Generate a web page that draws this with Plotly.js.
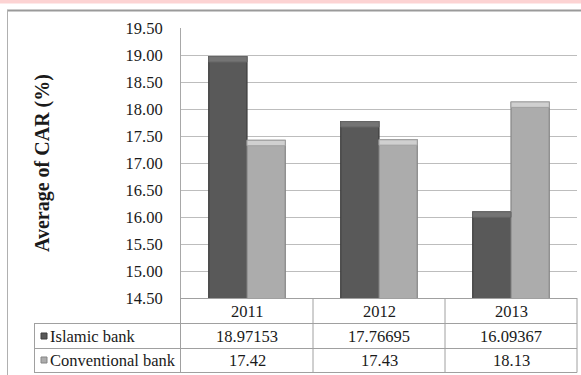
<!DOCTYPE html>
<html><head><meta charset="utf-8">
<script src="https://cdn.plot.ly/plotly-3.0.1.min.js"></script>
<style>html,body{margin:0;padding:0;background:#fff}#chart{width:581px;height:375px}</style>
</head><body><div id="chart"></div>
<script>
const years = ['2011', '2012', '2013'];
const islamic = [18.97153, 17.76695, 16.09367];
const conventional = [17.42, 17.43, 18.13];
const islamicLabels = ['18.97153', '17.76695', '16.09367'];
const conventionalLabels = ['17.42', '17.43', '18.13'];
const seriesNames = ['Islamic bank', 'Conventional bank'];
const yTicks = [14.5, 15, 15.5, 16, 16.5, 17, 17.5, 18, 18.5, 19, 19.5];
const yTitle = 'Average of CAR (%)';

const W = 581, H = 375, L = 181, R = 577, T = 28, B = 298;
const px = x => (x - L) / (R - L);
const py = y => (B - y) / (B - T);
const FONT = '"Times New Roman", "Liberation Serif", Tinos, serif';
const CAP = 0.1;

const darkFill = '#595959', darkLine = '#3e3e3e', darkCap = '#747474';
const lightFill = '#acacac', lightLine = '#858585', lightCap = '#d0d0d0';

const traces = [
  {type: 'bar', x: years, y: islamic, name: seriesNames[0], offsetgroup: 'a',
   marker: {color: darkFill, line: {color: darkLine, width: 1.2}}},
  {type: 'bar', x: years, y: conventional, name: seriesNames[1], offsetgroup: 'b',
   marker: {color: lightFill, line: {color: lightLine, width: 1.2}}},
  {type: 'bar', x: years, y: islamic.map(() => CAP), base: islamic.map(v => v - CAP), offsetgroup: 'a',
   marker: {color: darkCap, line: {color: '#666666', width: 1}}, hoverinfo: 'skip'},
  {type: 'bar', x: years, y: conventional.map(() => CAP), base: conventional.map(v => v - CAP), offsetgroup: 'b',
   marker: {color: lightCap, line: {color: '#a0a0a0', width: 1}}, hoverinfo: 'skip'}
];

const lineC = '#a0a0a0';
const shapes = [];
function hline(x0, x1, y, color, w) {
  shapes.push({type: 'line', xref: 'paper', yref: 'paper', x0: px(x0), x1: px(x1), y0: py(y), y1: py(y),
    line: {color: color || lineC, width: w || 1}});
}
function vline(x, y0, y1, color, w) {
  shapes.push({type: 'line', xref: 'paper', yref: 'paper', x0: px(x), x1: px(x), y0: py(y0), y1: py(y1),
    line: {color: color || lineC, width: w || 1}});
}
// pink strip at top
shapes.push({type: 'rect', xref: 'paper', yref: 'paper', x0: px(0), x1: px(W), y0: py(0), y1: py(3.5),
  fillcolor: '#fcd3d3', line: {width: 0}, layer: 'below'});
// outer frame
hline(7, 600, 10.5, '#9a9a9a', 2);
vline(7.5, 10, 400, '#b0b0b0', 1);
// table
hline(180, 577, 298.5);
hline(34, 577, 323.5);
hline(34, 577, 348.5);
hline(34, 577, 372.5);
vline(34.5, 323.5, 372.5);
vline(180.5, 298, 372.5);
vline(313, 298, 372.5);
vline(445, 298, 372.5);
vline(577, 298, 372.5);
// legend keys
shapes.push({type: 'rect', xref: 'paper', yref: 'paper', x0: px(41), x1: px(47), y0: py(333), y1: py(339),
  fillcolor: darkFill, line: {color: darkLine, width: 1}});
shapes.push({type: 'rect', xref: 'paper', yref: 'paper', x0: px(41), x1: px(47), y0: py(357), y1: py(363),
  fillcolor: lightFill, line: {color: lightLine, width: 1}});

const tf = {family: FONT, size: 16.5, color: '#1a1a1a'};
const annotations = [];
years.forEach((yr, i) => {
  annotations.push({xref: 'x', yref: 'paper', x: i, y: py(311), text: yr, showarrow: false, font: tf, xanchor: 'center', yanchor: 'middle'});
  annotations.push({xref: 'x', yref: 'paper', x: i, y: py(336), text: islamicLabels[i], showarrow: false, font: tf, xanchor: 'center', yanchor: 'middle'});
  annotations.push({xref: 'x', yref: 'paper', x: i, y: py(360.5), text: conventionalLabels[i], showarrow: false, font: tf, xanchor: 'center', yanchor: 'middle'});
});
annotations.push({xref: 'paper', yref: 'paper', x: px(48), y: py(336), text: seriesNames[0], showarrow: false, font: tf, xanchor: 'left', yanchor: 'middle'});
annotations.push({xref: 'paper', yref: 'paper', x: px(48), y: py(360.5), text: seriesNames[1], showarrow: false, font: tf, xanchor: 'left', yanchor: 'middle'});
annotations.push({xref: 'paper', yref: 'paper', x: px(42), y: 0.5, text: '<b>' + yTitle + '</b>', textangle: -90,
  showarrow: false, font: {family: FONT, size: 20, color: '#1a1a1a'}, xanchor: 'center', yanchor: 'middle'});

const layout = {
  width: W, height: H,
  margin: {l: L, r: W - R, t: T, b: H - B, pad: 0},
  paper_bgcolor: '#ffffff', plot_bgcolor: '#ffffff',
  barmode: 'group', bargap: 0.42, bargroupgap: 0,
  showlegend: false,
  xaxis: {type: 'category', range: [-0.5, 2.5], showticklabels: false, showgrid: false, zeroline: false, showline: false, fixedrange: true},
  yaxis: {range: [14.5, 19.5], tickvals: yTicks, ticktext: yTicks.map(v => v.toFixed(2)),
    tickfont: {family: FONT, size: 16.5, color: '#1a1a1a'}, ticks: '', ticklabelstandoff: 14,
    showgrid: true, gridcolor: '#bdbdbd', gridwidth: 1, zeroline: false,
    showline: true, linecolor: '#a8a8a8', linewidth: 1, fixedrange: true},
  shapes: shapes,
  annotations: annotations
};

Plotly.newPlot('chart', traces, layout, {displayModeBar: false, staticPlot: true});
</script>
</body></html>
